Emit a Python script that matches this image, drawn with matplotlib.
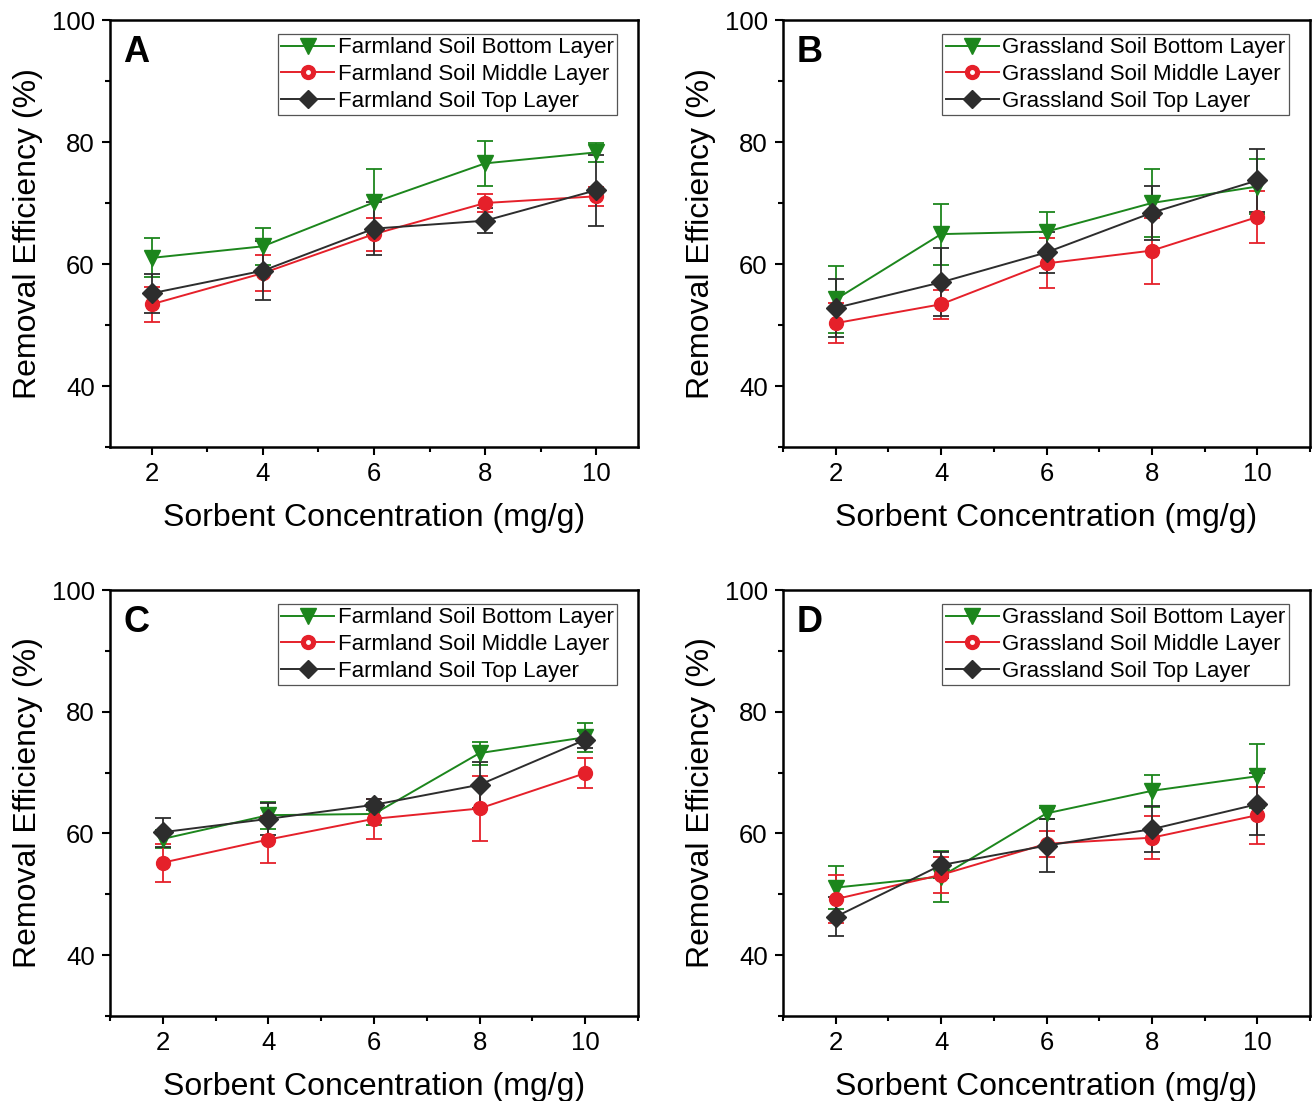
import matplotlib
matplotlib.use('Agg')
import matplotlib.pyplot as plt
from matplotlib.ticker import MultipleLocator
from matplotlib.lines import Line2D

plt.rcParams['font.family'] = ['Liberation Sans', 'DejaVu Sans']

# sorbent concentration (mg/g)
conc = [2, 4, 6, 8, 10]

# panel A - farmland soil
a_bottom = [61.0, 62.9, 70.1, 76.5, 78.3]
a_bottom_err = [3.2, 3.0, 5.4, 3.7, 1.6]
a_middle = [53.4, 58.5, 64.9, 70.0, 71.1]
a_middle_err = [2.9, 2.9, 2.7, 1.5, 1.6]
a_top = [55.2, 58.9, 65.8, 67.1, 72.1]
a_top_err = [3.2, 4.8, 4.3, 2.0, 5.8]

# panel B - grassland soil
b_bottom = [54.2, 64.9, 65.3, 70.0, 72.7]
b_bottom_err = [5.5, 5.0, 3.3, 5.6, 4.5]
b_middle = [50.3, 53.4, 60.1, 62.2, 67.7]
b_middle_err = [3.3, 2.4, 4.1, 5.4, 4.3]
b_top = [52.8, 57.0, 61.9, 68.4, 73.7]
b_top_err = [4.7, 5.6, 3.3, 4.4, 5.2]

# panel C - farmland soil
c_bottom = [59.1, 63.0, 63.2, 73.2, 75.8]
c_bottom_err = [1.5, 2.2, 1.8, 1.9, 2.4]
c_middle = [55.2, 59.0, 62.4, 64.1, 69.9]
c_middle_err = [3.1, 3.9, 3.3, 5.4, 2.5]
c_top = [60.2, 62.4, 64.7, 68.0, 75.4]
c_top_err = [2.4, 2.6, 0.9, 3.8, 1.4]

# panel D - grassland soil
d_bottom = [51.1, 52.9, 63.3, 67.0, 69.4]
d_bottom_err = [3.6, 4.2, 0.9, 2.6, 5.3]
d_middle = [49.2, 53.2, 58.3, 59.3, 63.0]
d_middle_err = [3.9, 3.0, 2.1, 3.5, 4.7]
d_top = [46.3, 54.8, 58.0, 60.7, 64.8]
d_top_err = [3.2, 2.2, 4.4, 3.8, 5.1]

GREEN = '#1c861c'
RED = '#e5202a'
BLACK = '#2d2d2d'

W, H = 1314, 1101
fig = plt.figure(figsize=(W / 100, H / 100), dpi=100)


def px_axes(l, t, r, b):
    return fig.add_axes([l / W, 1 - b / H, (r - l) / W, (b - t) / H])


def panel(ax, letter, soil, bottom, bottom_err, middle, middle_err, top, top_err, xlim):
    # bottom layer
    ax.errorbar(conc, bottom, yerr=bottom_err, color=GREEN, lw=1.4, marker='v', ms=11,
                mec=GREEN, mfc=GREEN, capsize=6, elinewidth=1.3, capthick=1.3, ecolor=GREEN)
    h1 = Line2D([], [], color=GREEN, lw=1.4, marker='v', ms=11)
    # middle layer
    ax.errorbar(conc, middle, yerr=middle_err, color=RED, lw=1.4, marker='o', ms=10,
                mec=RED, mfc=RED, capsize=6, elinewidth=1.3, capthick=1.3, ecolor=RED)
    ax.plot(conc, middle, ls='none', marker='o', ms=2.5, mfc='white', mec='white')
    h2 = (Line2D([], [], color=RED, lw=1.4, marker='o', ms=10),
          Line2D([], [], ls='none', marker='o', ms=2.5, mfc='white', mec='white'))
    # top layer
    ax.errorbar(conc, top, yerr=top_err, color=BLACK, lw=1.4, marker='D', ms=10,
                mec=BLACK, mfc=BLACK, capsize=6, elinewidth=1.3, capthick=1.3, ecolor=BLACK)
    h3 = Line2D([], [], color=BLACK, lw=1.4, marker='D', ms=9)

    ax.set_xlim(*xlim)
    ax.set_ylim(30, 100)
    ax.xaxis.set_major_locator(MultipleLocator(2))
    ax.xaxis.set_minor_locator(MultipleLocator(1))
    ax.set_yticks([40, 60, 80, 100])
    ax.yaxis.set_minor_locator(MultipleLocator(10))
    ax.tick_params(which='major', length=6, width=1.5, labelsize=18.5, pad=5)
    ax.tick_params(which='minor', length=3.5, width=1.5)
    ax.tick_params(top=False, right=False)
    for s in ax.spines.values():
        s.set_linewidth(1.8)
    ax.set_xlabel('Sorbent Concentration (mg/g)', fontsize=23, labelpad=12)
    ax.set_ylabel('Removal Efficiency (%)', fontsize=23, labelpad=6)
    ax.text(0.025, 0.965, letter, transform=ax.transAxes, fontsize=26, fontweight='bold',
            va='top', ha='left')
    leg = ax.legend([h1, h2, h3],
                    [soil + ' Soil Bottom Layer', soil + ' Soil Middle Layer', soil + ' Soil Top Layer'],
                    loc='upper right', bbox_to_anchor=(0.96, 0.967), fontsize=16,
                    frameon=True, fancybox=False, edgecolor='#555555', framealpha=1,
                    handlelength=2.4, handletextpad=0.15, labelspacing=0.25,
                    borderpad=0.15, borderaxespad=0.0)
    leg.get_frame().set_linewidth(0.9)


axA = px_axes(110, 20, 638, 447)
panel(axA, 'A', 'Farmland', a_bottom, a_bottom_err, a_middle, a_middle_err, a_top, a_top_err, (1.25, 10.75))
axB = px_axes(783, 20, 1310, 447)
panel(axB, 'B', 'Grassland', b_bottom, b_bottom_err, b_middle, b_middle_err, b_top, b_top_err, (1, 11))
axC = px_axes(110, 590, 638, 1016)
panel(axC, 'C', 'Farmland', c_bottom, c_bottom_err, c_middle, c_middle_err, c_top, c_top_err, (1, 11))
axD = px_axes(783, 590, 1310, 1016)
panel(axD, 'D', 'Grassland', d_bottom, d_bottom_err, d_middle, d_middle_err, d_top, d_top_err, (1, 11))

fig.savefig('out.png', dpi=100)
